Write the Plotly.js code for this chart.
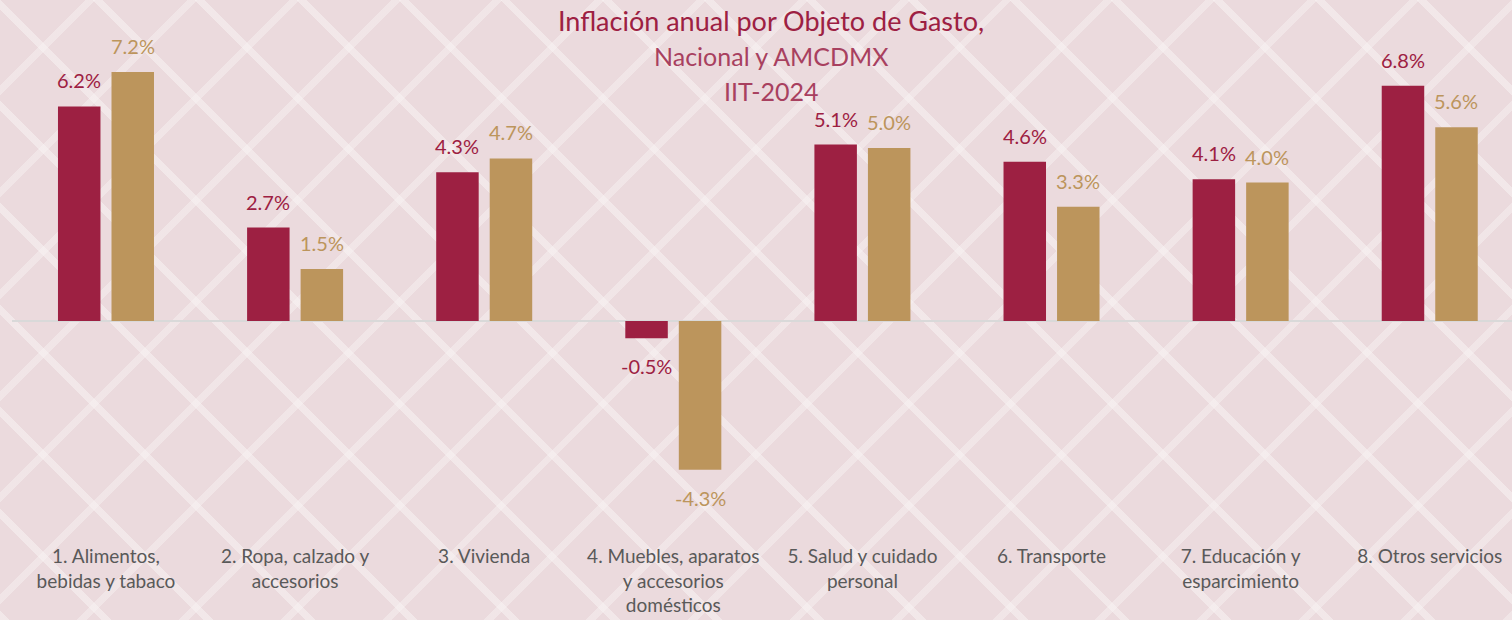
<!DOCTYPE html>
<html>
<head>
<meta charset="utf-8">
<script src="https://cdn.plot.ly/plotly-3.0.1.min.js"></script>
<style>
  html, body { margin: 0; padding: 0; }
  body {
    width: 1512px; height: 620px; overflow: hidden;
    background-color: #ebdadd;
    background-image:
      repeating-linear-gradient(45deg, rgba(248,243,243,0.55) 0px, rgba(248,243,243,0.55) 7px, transparent 7px, transparent 72px),
      repeating-linear-gradient(-45deg, rgba(248,243,243,0.45) 0px, rgba(248,243,243,0.45) 7px, transparent 7px, transparent 72px);
  }
  #chart { width: 1512px; height: 620px; }
</style>
</head>
<body>
<div id="chart"></div>
<script>
const categories = [
  "1. Alimentos,<br>bebidas y tabaco",
  "2. Ropa, calzado y<br>accesorios",
  "3. Vivienda",
  "4. Muebles, aparatos<br>y accesorios<br>domésticos",
  "5. Salud y cuidado<br>personal",
  "6. Transporte",
  "7. Educación y<br>esparcimiento",
  "8. Otros servicios"
];
const nacional = [6.2, 2.7, 4.3, -0.5, 5.1, 4.6, 4.1, 6.8];
const amcdmx   = [7.2, 1.5, 4.7, -4.3, 5.0, 3.3, 4.0, 5.6];
const seriesNames = ["Nacional", "AMCDMX"];
const titleLines = ["Inflación anual por Objeto de Gasto,", "Nacional y AMCDMX", "IIT-2024"];

const RED = "#9d2042";
const GOLD = "#bc955c";
const FONT = "Lato, 'Open Sans', sans-serif";

const traces = [
  { type: "bar", name: seriesNames[0], x: categories, y: nacional, marker: { color: RED }, hoverinfo: "x+y" },
  { type: "bar", name: seriesNames[1], x: categories, y: amcdmx, marker: { color: GOLD }, hoverinfo: "x+y" }
];

// value labels (placed at each bar's value through the axis scales)
const annotations = [];
[[nacional, RED, -26.75], [amcdmx, GOLD, 26.75]].forEach(([vals, col, dx]) => {
  vals.forEach((v, i) => {
    annotations.push({
      x: categories[i], y: v, xref: "x", yref: "y",
      text: v.toFixed(1) + "%", showarrow: false,
      xanchor: "center", yanchor: "middle",
      xshift: dx, yshift: v >= 0 ? 26 : -28,
      font: { family: FONT, size: 20, color: col }
    });
  });
});
// title lines
const titleY = [1.0, 0.931, 0.864];
titleLines.forEach((t, i) => {
  annotations.push({
    x: 0.506, y: titleY[i], xref: "paper", yref: "paper", xanchor: "center", yanchor: "middle",
    text: t, showarrow: false,
    font: { family: FONT, size: i === 0 ? 27 : 25, color: i === 0 ? RED : "#a8405f" }
  });
});

const layout = {
  width: 1512, height: 620,
  paper_bgcolor: "rgba(0,0,0,0)",
  plot_bgcolor: "rgba(0,0,0,0)",
  margin: { l: 12, r: 0, t: 20, b: 80 },
  showlegend: false,
  barmode: "group",
  bargap: 0.434,
  bargroupgap: 0.206,
  annotations: annotations,
  xaxis: {
    range: [-0.497, 7.435],
    showgrid: false, zeroline: false, showline: false, ticks: "",
    tickfont: { family: FONT, size: 19, color: "#595959" },
    ticklabelstandoff: 3,
    fixedrange: true
  },
  yaxis: {
    range: [-6.33, 8.7],
    showgrid: false, showticklabels: false, ticks: "",
    zeroline: true, zerolinecolor: "#d9d9d9", zerolinewidth: 2,
    fixedrange: true
  }
};

Plotly.newPlot("chart", traces, layout, { displayModeBar: false, staticPlot: true });
</script>
</body>
</html>
